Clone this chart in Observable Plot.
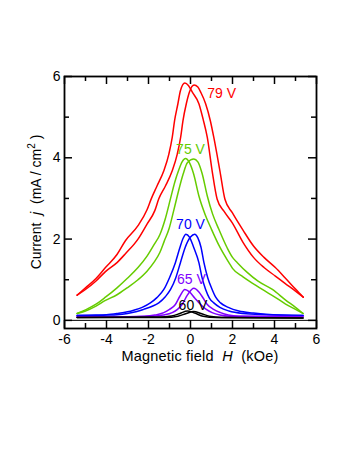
<!DOCTYPE html>
<html><head><meta charset="utf-8">
<script src="https://cdn.jsdelivr.net/npm/d3@7"></script>
<script src="https://cdn.jsdelivr.net/npm/@observablehq/plot@0.6"></script>
<style>
body{margin:0;background:#fff;}
svg{display:block;}
</style>
</head><body><div id="chart"></div>
<script>
// ---- data ----
const voltages = ["79 V", "75 V", "70 V", "65 V", "60 V"];
const colors = ["#ff0000", "#66cc00", "#0000ff", "#8000ff", "#000000"];

// each voltage: branch "a" (peak at negative H) and branch "b" (peak at positive H); [H (kOe), j (mA/cm2)]
const v79a = [[-5.4,0.62],[-5.0,0.80],[-4.5,1.03],[-4.05,1.30],[-3.5,1.62],[-3.1,1.96],[-2.5,2.33],[-2.07,2.72],[-1.87,2.99],[-1.6,3.3],[-1.27,3.68],[-1.03,4.09],[-0.87,4.50],[-0.76,4.91],[-0.60,5.33],[-0.48,5.65],[-0.27,5.84],[-0.1,5.78],[0.08,5.62],[0.40,5.33],[0.6,4.95],[0.80,4.50],[1.03,3.68],[1.27,2.98],[1.6,2.68],[1.99,2.40],[2.5,1.92],[3.0,1.55],[3.5,1.30],[4.04,1.09],[4.5,0.91],[5.0,0.72],[5.37,0.57]];
const v79b = [[-5.4,0.62],[-5.0,0.76],[-4.5,0.97],[-4.05,1.20],[-3.5,1.42],[-3.1,1.64],[-2.5,2.0],[-2.07,2.37],[-1.7,2.7],[-1.51,2.99],[-1.2,3.3],[-0.87,3.68],[-0.63,4.09],[-0.47,4.50],[-0.36,4.91],[-0.2,5.33],[-0.05,5.62],[0.17,5.79],[0.35,5.74],[0.5,5.6],[0.72,5.33],[0.95,4.9],[1.11,4.50],[1.40,3.68],[1.64,2.98],[1.99,2.65],[2.5,2.22],[3.0,1.83],[3.5,1.55],[4.04,1.30],[4.5,1.05],[5.0,0.77],[5.37,0.57]];
const v75a = [[-5.4,0.17],[-5.0,0.26],[-4.5,0.40],[-4.05,0.57],[-3.5,0.80],[-3.02,1.03],[-2.5,1.30],[-2.07,1.58],[-1.75,1.85],[-1.45,2.12],[-1.2,2.5],[-0.95,3.0],[-0.75,3.40],[-0.56,3.70],[-0.4,3.90],[-0.24,3.98],[-0.05,3.88],[0.15,3.6],[0.40,3.06],[0.7,2.6],[1.0,2.24],[1.4,1.8],[1.83,1.42],[2.0,1.28],[2.5,1.07],[3.0,0.90],[3.42,0.76],[4.0,0.58],[4.53,0.40],[5.0,0.27],[5.36,0.17]];
const v75b = [[-5.4,0.17],[-5.0,0.23],[-4.5,0.35],[-4.05,0.49],[-3.5,0.63],[-3.02,0.80],[-2.5,1.0],[-2.07,1.21],[-1.75,1.42],[-1.46,1.67],[-1.25,1.95],[-1.03,2.24],[-0.8,2.7],[-0.63,3.06],[-0.35,3.60],[-0.15,3.88],[0.16,3.97],[0.35,3.9],[0.55,3.62],[0.80,3.06],[1.05,2.62],[1.35,2.24],[1.75,1.78],[2.0,1.55],[2.23,1.42],[2.7,1.18],[3.2,0.97],[3.9,0.76],[4.53,0.50],[5.0,0.32],[5.36,0.17]];
const v70a = [[-5.4,0.12],[-4.5,0.13],[-4.0,0.14],[-3.5,0.17],[-3.0,0.21],[-2.70,0.25],[-2.3,0.32],[-1.91,0.43],[-1.6,0.56],[-1.27,0.76],[-1.0,1.05],[-0.72,1.42],[-0.5,1.80],[-0.35,2.02],[-0.22,2.12],[-0.05,2.05],[0.15,1.80],[0.40,1.42],[0.55,1.05],[0.72,0.76],[0.9,0.55],[1.11,0.43],[1.4,0.32],[1.83,0.23],[2.5,0.17],[3.6,0.14],[5.36,0.12]];
const v70b = [[-5.4,0.12],[-4.5,0.12],[-4.0,0.13],[-3.5,0.14],[-3.0,0.17],[-2.6,0.21],[-2.23,0.27],[-1.85,0.34],[-1.51,0.43],[-1.2,0.58],[-0.95,0.76],[-0.7,1.05],[-0.48,1.42],[-0.25,1.80],[0.0,2.05],[0.2,2.12],[0.35,2.03],[0.5,1.80],[0.64,1.42],[0.82,1.05],[1.03,0.76],[1.2,0.57],[1.43,0.43],[1.8,0.32],[2.30,0.23],[3.0,0.18],[3.6,0.15],[5.36,0.12]];
const v65a = [[-5.4,0.09],[-3.0,0.09],[-2.2,0.10],[-1.7,0.13],[-1.27,0.19],[-1.0,0.27],[-0.72,0.39],[-0.5,0.60],[-0.27,0.76],[-0.05,0.70],[0.2,0.55],[0.48,0.39],[0.75,0.27],[1.03,0.19],[1.4,0.13],[1.9,0.10],[5.36,0.09]];
const v65b = [[-5.4,0.09],[-2.6,0.09],[-1.8,0.10],[-1.3,0.13],[-0.87,0.19],[-0.62,0.27],[-0.40,0.39],[-0.15,0.62],[0.16,0.79],[0.4,0.70],[0.6,0.55],[0.80,0.39],[1.1,0.27],[1.43,0.19],[1.8,0.13],[2.3,0.10],[5.36,0.09]];
const v60a = [[-5.4,0.07],[-1.5,0.08],[-0.9,0.11],[-0.5,0.17],[-0.15,0.23],[0.2,0.18],[0.6,0.10],[1.2,0.07],[5.36,0.06]];
const v60b = [[-5.4,0.07],[-1.2,0.07],[-0.6,0.10],[-0.2,0.17],[0.15,0.22],[0.5,0.17],[0.9,0.10],[1.5,0.07],[5.36,0.06]];

const branches = [
  ["79 V", "a", v79a], ["79 V", "b", v79b],
  ["75 V", "a", v75a], ["75 V", "b", v75b],
  ["70 V", "a", v70a], ["70 V", "b", v70b],
  ["65 V", "a", v65a], ["65 V", "b", v65b],
  ["60 V", "a", v60a], ["60 V", "b", v60b]
];

const labelText = ["79 V", "75 V", "70 V", "65 V", "60 V"];
const labelH = [0.80, 0.0, 0.0, 0.04, 0.12];
const labelJ = [5.46, 4.09, 2.24, 0.89, 0.25];

const xMajor = [-6, -4, -2, 0, 2, 4, 6];
const xMinor = [-5, -3, -1, 1, 3, 5];
const yMajor = [0, 2, 4, 6];
const yMinor = [1, 3, 5];

// ---- build tables ----
const rows = branches.flatMap(([v, b, pts]) => pts.map(([H, j]) => ({H, j, voltage: v, branch: v + b})));
const labels = labelText.map((t, i) => ({text: t, H: labelH[i], j: labelJ[i]}));

// ---- layout ----
const W = 357, HT = 462;
const mL = 64, mR = 41, mT = 76, mB = 134;
const fw = W - mL - mR, fh = HT - mT - mB;
const major = 8, minor = 5;
const font = "'Liberation Sans', Arial, Helvetica, sans-serif";

const plot = Plot.plot({
  width: W, height: HT,
  marginLeft: mL, marginRight: mR, marginTop: mT, marginBottom: mB,
  style: {fontFamily: font, fontSize: "14px", background: "white", color: "black"},
  x: {domain: [-6, 6]},
  y: {domain: [-0.2, 6]},
  color: {domain: voltages, range: colors},
  marks: [
    Plot.ruleY([0], {stroke: "black", strokeWidth: 1}),
    Plot.line(rows, {x: "H", y: "j", z: "branch", stroke: "voltage", strokeWidth: 1.5, curve: "monotone-x"}),
    Plot.text(labels.filter(d => d.text === "79 V"), {x: "H", y: "j", text: "text", fill: "text", textAnchor: "start", lineAnchor: "bottom", fontSize: 14}),
    Plot.text(labels.filter(d => d.text !== "79 V"), {x: "H", y: "j", text: "text", fill: "text", textAnchor: "middle", lineAnchor: "bottom", fontSize: 14}),
    // inward ticks on all four sides
    Plot.tickX(xMajor, {x: d => d, insetTop: fh - major, strokeWidth: 1.5}),
    Plot.tickX(xMinor, {x: d => d, insetTop: fh - minor, strokeWidth: 1.5}),
    Plot.tickX(xMajor, {x: d => d, insetBottom: fh - major, strokeWidth: 1.5}),
    Plot.tickX(xMinor, {x: d => d, insetBottom: fh - minor, strokeWidth: 1.5}),
    Plot.tickY(yMajor, {y: d => d, insetRight: fw - major, strokeWidth: 1.5}),
    Plot.tickY(yMinor, {y: d => d, insetRight: fw - minor, strokeWidth: 1.5}),
    Plot.tickY(yMajor, {y: d => d, insetLeft: fw - major, strokeWidth: 1.5}),
    Plot.tickY(yMinor, {y: d => d, insetLeft: fw - minor, strokeWidth: 1.5}),
    Plot.axisX(xMajor, {anchor: "bottom", tickSize: 0, tickPadding: 6, tickFormat: d => String(d), label: null, fontSize: 14}),
    Plot.axisY(yMajor, {anchor: "left", tickSize: 0, tickPadding: 4, tickFormat: d => String(d), label: null, fontSize: 14}),
    Plot.frame({stroke: "black", strokeWidth: 1.8})
  ]
});

// axis titles with italic symbols and superscript
const svg = d3.select(plot);
const xl = svg.append("text")
  .attr("x", mL + fw / 2 + 10).attr("y", HT - mB + 32.5)
  .attr("text-anchor", "middle").attr("font-size", 14.5).attr("letter-spacing", 0.2)
  .attr("font-family", font).attr("fill", "black");
xl.append("tspan").text("Magnetic field\u00a0\u00a0");
xl.append("tspan").attr("font-style", "italic").text("H");
xl.append("tspan").text("\u00a0\u00a0(kOe)");

const yl = svg.append("text")
  .attr("transform", `translate(41,${mT + fh / 2}) rotate(-90)`)
  .attr("text-anchor", "middle").attr("font-size", 14).attr("font-family", font).attr("fill", "black");
yl.append("tspan").text("Current\u00a0\u00a0");
yl.append("tspan").attr("font-style", "italic").text("j");
yl.append("tspan").text("\u00a0\u00a0(mA / cm");
yl.append("tspan").attr("font-size", 10).attr("dy", -6).text("2");
yl.append("tspan").attr("dy", 6).text("\u00a0)");

document.getElementById("chart").appendChild(plot);
</script></body></html>
